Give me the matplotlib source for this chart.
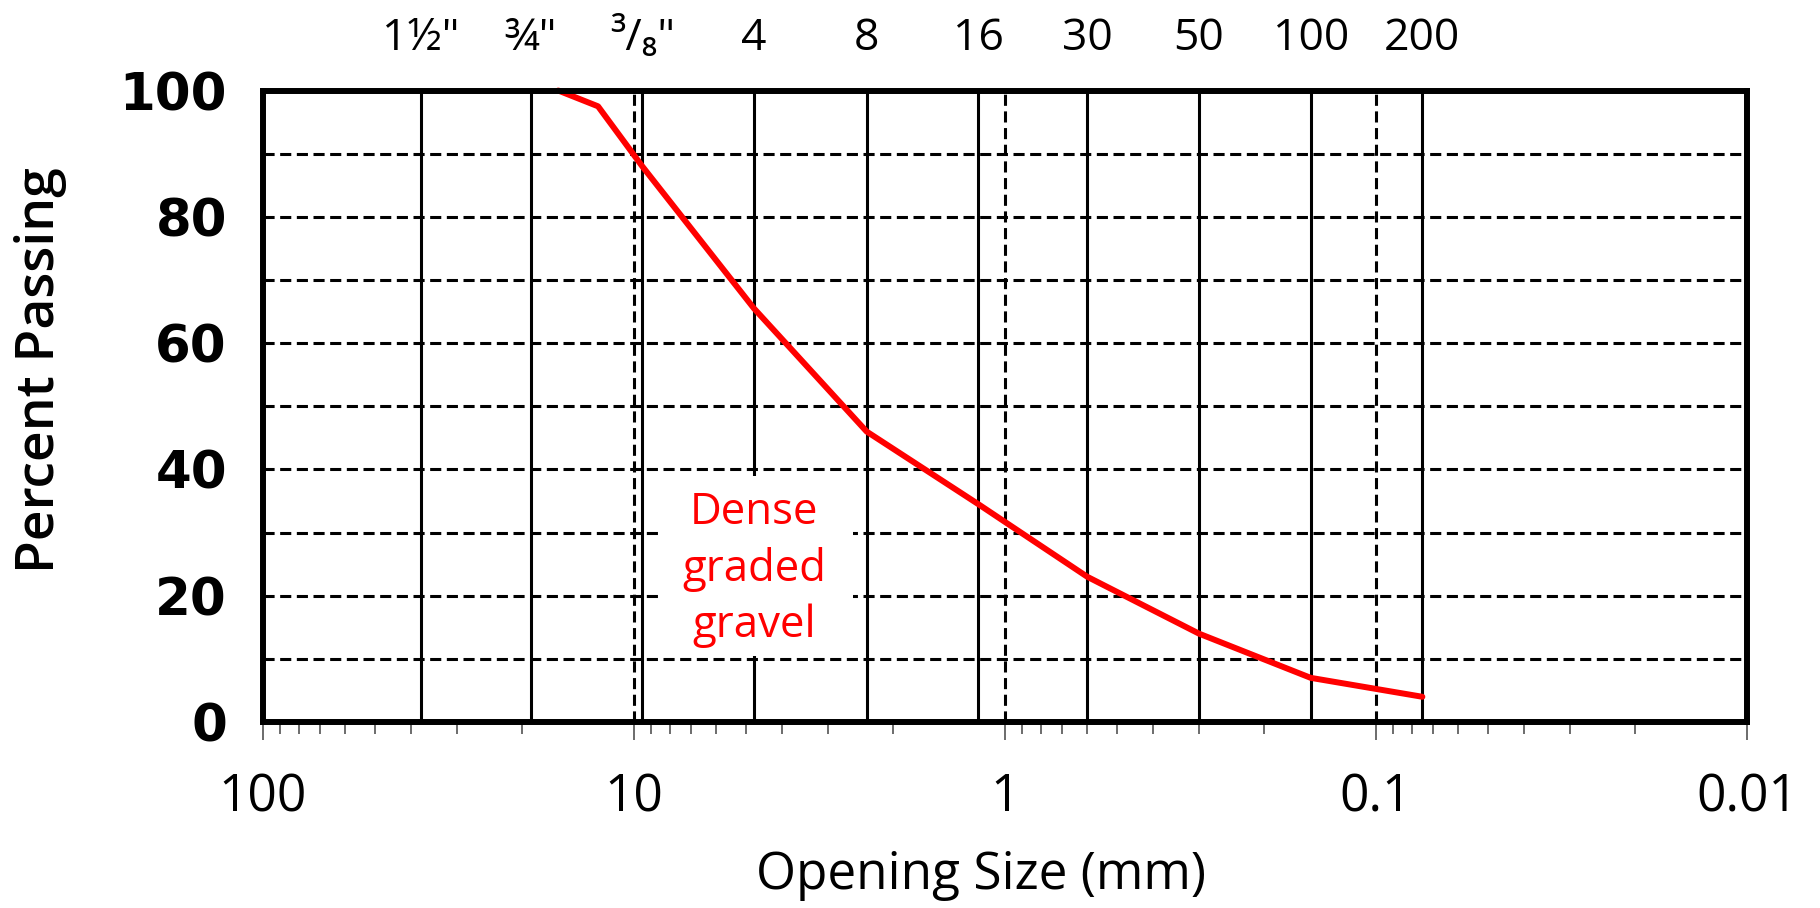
import matplotlib
matplotlib.use("Agg")
import matplotlib.pyplot as plt
from matplotlib.patches import Rectangle
from matplotlib.ticker import NullLocator, FixedLocator, FixedFormatter

plt.rcParams['lines.scale_dashes'] = False

# ---- data ----
sieve_labels = ['1½"', '¾"', '³/₈"', '4', '8', '16', '30', '50', '100', '200']
sieve_mm = [37.5, 19.0, 9.5, 4.75, 2.36, 1.18, 0.6, 0.3, 0.15, 0.075]

size_mm = [16.0, 12.5, 9.5, 4.75, 2.36, 1.18, 0.6, 0.3, 0.15, 0.075]
passing = [100, 97.5, 88, 65.5, 46, 34.5, 23, 14, 7, 4]

x_major = [100, 10, 1, 0.1, 0.01]
x_major_labels = ['100', '10', '1', '0.1', '0.01']
y_major = [0, 20, 40, 60, 80, 100]
y_minor = [10, 30, 50, 70, 90]

note_text = "Dense\ngraded\ngravel"

# ---- figure ----
fig = plt.figure(figsize=(18.2, 9.08), dpi=100)
ax = fig.add_axes([0.1445, 0.2048, 0.9599 - 0.1445, 0.9003 - 0.2048])

ax.set_xscale('log')
ax.set_xlim(100, 0.01)
ax.set_ylim(0, 100)

dash = (0, (8, 4))
glw = 2.2

# sieve lines
for s in sieve_mm:
    ax.axvline(s, color='black', lw=glw, zorder=0.8)

# grid
ax.set_xticks(x_major)
ax.set_xticklabels(x_major_labels)
ax.set_yticks(y_major)
ax.set_yticks(y_minor, minor=True)
ax.set_axisbelow(True)
ax.grid(axis='x', which='major', color='black', lw=glw, linestyle=dash)
ax.grid(axis='y', which='both', color='black', lw=glw, linestyle=dash)
ax.grid(axis='x', which='minor', visible=False)

# label box
box = Rectangle((2.57, 10.5), 8.43 - 2.57, 39.0 - 10.5, facecolor='white',
                edgecolor='none', zorder=1)
ax.add_patch(box)

# curve
ax.plot(size_mm, passing, color='#ff0000', lw=4.3, zorder=3,
        solid_capstyle='round', clip_on=False)

ax.text(4.75, 24.2, note_text, color='#ff0000', fontsize=31.5,
        family=['Open Sans', 'DejaVu Sans'], ha='center', va='center',
        linespacing=1.36, zorder=4)

for sp in ax.spines.values():
    sp.set_linewidth(4.3)
    sp.set_color('black')
    sp.set_zorder(5)

ax.tick_params(axis='x', which='major', direction='out', length=13, width=1.1,
               color='#444444', pad=23, labelsize=37, top=False)
ax.tick_params(axis='x', which='minor', direction='out', length=8.5, width=1.1,
               color='#444444', top=False)
ax.tick_params(axis='y', which='both', length=0, pad=26)
for lab in ax.get_xticklabels():
    lab.set_family(['Open Sans', 'DejaVu Sans'])
for lab in ax.get_yticklabels():
    lab.set_family('DejaVu Sans')
    lab.set_fontweight('bold')
    lab.set_fontsize(37)

ax.set_xlabel('Opening Size (mm)', fontsize=37, family=['Open Sans', 'DejaVu Sans'])
ax.xaxis.set_label_coords(0.484, -0.203)
ax.set_ylabel('Percent Passing', fontsize=38.5, family=['Open Sans', 'DejaVu Sans'],
              fontweight='semibold')
ax.yaxis.set_label_coords(-0.132, 0.557)

# top sieve axis
ax2 = ax.twiny()
ax2.set_xscale('log')
ax2.set_xlim(ax.get_xlim())
ax2.xaxis.set_major_locator(FixedLocator(sieve_mm))
ax2.xaxis.set_major_formatter(FixedFormatter(sieve_labels))
ax2.xaxis.set_minor_locator(NullLocator())
ax2.tick_params(axis='x', which='major', length=0, pad=21, labelsize=32)
for lab in ax2.get_xticklabels():
    lab.set_family(['Open Sans', 'DejaVu Sans'])
for sp in ax2.spines.values():
    sp.set_visible(False)

fig.savefig('out.png', dpi=100)
